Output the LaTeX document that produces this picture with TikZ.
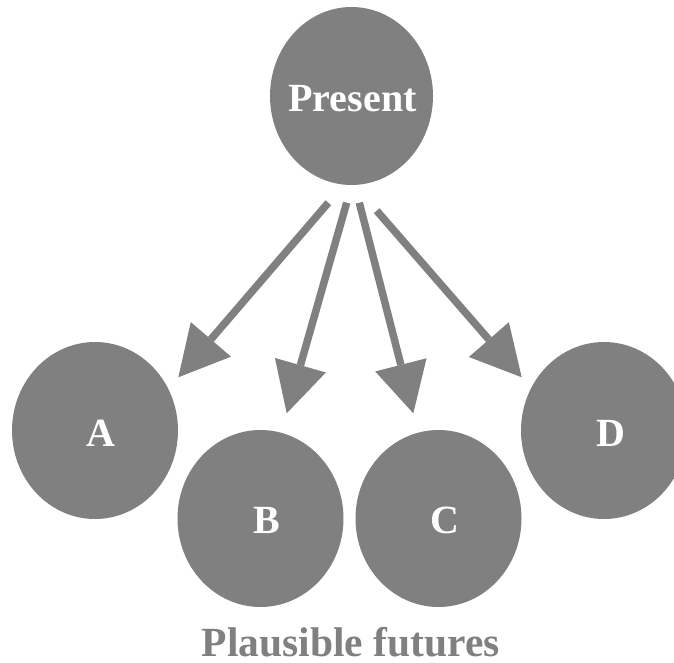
\documentclass[tikz,border=0pt]{standalone}
\usepackage{fontspec}
\newfontfamily\capfont{LiberationSerif}[Extension=.ttf,UprightFont=*-Bold,BoldFont=*-Bold]
\usetikzlibrary{shapes.geometric,arrows.meta}
\definecolor{diagray}{RGB}{128,128,128}
\begin{document}
\begin{tikzpicture}[x=1pt,y=-1pt,
  blob/.style={ellipse,fill=diagray,draw=none,inner sep=0pt},
  pres/.style={blob,minimum width=163pt,minimum height=178pt},
  fut/.style={blob,minimum width=166pt,minimum height=177pt},
  lab/.style={text=white,font=\capfont\fontsize{40}{48}\selectfont,inner sep=0pt},
  arr/.style={draw=diagray,line width=7.5pt,-{Triangle[length=50pt,width=53pt,line width=0pt]}},
  caption/.style={text=diagray,font=\capfont\fontsize{41.5}{50}\selectfont,inner sep=0pt}]
\useasboundingbox (0,0) rectangle (674,663);
\node[pres] (P) at (351.5,96) {};
\node[lab] (tP) at (352.5,98.5) {Present};
\node[fut] (A) at (95,430.5) {};
\node[fut] (B) at (260.5,518.5) {};
\node[fut] (C) at (438.5,518.5) {};
\node[fut] (D) at (604,430.5) {};
\node[lab] (tA) at ([shift={(5.5,2.5)}]A.center) {A};
\node[lab] (tB) at ([shift={(6.5,1.5)}]B.center) {B};
\node[lab] (tC) at ([shift={(6.5,1.5)}]C.center) {C};
\node[lab] (tD) at ([shift={(6.5,2.5)}]D.center) {D};
\draw[arr] ([shift={(-23.2,106.7)}]P.center) -- ([shift={(83.3,-53.2)}]A.center);
\draw[arr] ([shift={(-4.8,106.7)}]P.center) -- ([shift={(26.2,-105.2)}]B.center);
\draw[arr] ([shift={(7.8,106.7)}]P.center) -- ([shift={(-25.2,-105.2)}]C.center);
\draw[arr] ([shift={(25.2,114.7)}]P.center) -- ([shift={(-82.3,-53.2)}]D.center);
\node[caption,anchor=base] (cap) at (350.7,656.7) {Plausible futures};
\end{tikzpicture}
\end{document}
